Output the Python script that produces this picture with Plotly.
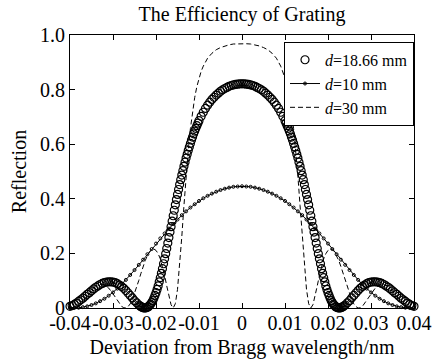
import numpy as np
import plotly.graph_objects as go

# ---------------- data ----------------
# d = 18.66 mm, sampled every 0.0005 nm from -0.04 to 0.04
x_d1866 = np.linspace(-0.04, 0.04, 161)
r_d1866 = [
    0.006,
    0.009, 0.013, 0.018, 0.024, 0.030, 0.036, 0.043, 0.050, 0.056, 0.063,
    0.070, 0.076, 0.081, 0.086, 0.090, 0.093, 0.095, 0.096, 0.096, 0.095,
    0.093, 0.089, 0.084, 0.079, 0.072, 0.064, 0.055, 0.046, 0.037, 0.027,
    0.019, 0.011, 0.005, 0.001, 0.000, 0.003, 0.010, 0.020, 0.036, 0.056,
    0.081, 0.111, 0.144, 0.180, 0.218, 0.258, 0.298, 0.338, 0.378, 0.416,
    0.452, 0.487, 0.519, 0.549, 0.577, 0.603, 0.626, 0.648, 0.668, 0.686,
    0.702, 0.717, 0.731, 0.743, 0.754, 0.764, 0.772, 0.780, 0.787, 0.794,
    0.799, 0.804, 0.808, 0.812, 0.815, 0.817, 0.819, 0.820, 0.821,
    0.821,
    0.821, 0.820, 0.819, 0.817, 0.815, 0.812, 0.808, 0.804, 0.799,
    0.794, 0.787, 0.780, 0.772, 0.764, 0.754, 0.743, 0.731, 0.717, 0.702,
    0.686, 0.668, 0.648, 0.626, 0.603, 0.577, 0.549, 0.519, 0.487, 0.452,
    0.416, 0.378, 0.338, 0.298, 0.258, 0.218, 0.180, 0.144, 0.111, 0.081,
    0.056, 0.036, 0.020, 0.010, 0.003, 0.000, 0.001, 0.005, 0.011, 0.019,
    0.027, 0.037, 0.046, 0.055, 0.064, 0.072, 0.079, 0.084, 0.089, 0.093,
    0.095, 0.096, 0.096, 0.095, 0.093, 0.090, 0.086, 0.081, 0.076, 0.070,
    0.063, 0.056, 0.050, 0.043, 0.036, 0.030, 0.024, 0.018, 0.013, 0.009,
    0.006,
]
# extra d = 18.66 mm readings on the steep flanks (denser markers there)
x_d1866_flank = [
    -0.02375, -0.02325, -0.02275, -0.02225, -0.02175, -0.02125, -0.02075,
    -0.02025, -0.01975, -0.01925, -0.01875, -0.01825, -0.01775, -0.01725,
    -0.01675, -0.01625, -0.01575, -0.01525, -0.01475, -0.01425, -0.01375,
    -0.01325, -0.01275, -0.01225, -0.01175, -0.01125, -0.01075, -0.01025,
    0.01025, 0.01075, 0.01125, 0.01175, 0.01225, 0.01275, 0.01325,
    0.01375, 0.01425, 0.01475, 0.01525, 0.01575, 0.01625, 0.01675,
    0.01725, 0.01775, 0.01825, 0.01875, 0.01925, 0.01975, 0.02025,
    0.02075, 0.02125, 0.02175, 0.02225, 0.02275, 0.02325, 0.02375,
]
r_d1866_flank = [
    0.008, 0.003, 0.000, 0.001, 0.005, 0.014, 0.027,
    0.046, 0.068, 0.096, 0.127, 0.162, 0.199, 0.238,
    0.278, 0.318, 0.358, 0.397, 0.434, 0.470, 0.503,
    0.534, 0.563, 0.590, 0.615, 0.638, 0.658, 0.677,
    0.677, 0.658, 0.638, 0.615, 0.590, 0.563, 0.534,
    0.503, 0.470, 0.434, 0.397, 0.358, 0.318, 0.278,
    0.238, 0.199, 0.162, 0.127, 0.096, 0.068, 0.046,
    0.027, 0.014, 0.005, 0.001, 0.000, 0.003, 0.008,
]

# d = 10 mm, sampled every 0.001 nm from -0.04 to 0.04
x_d10 = np.linspace(-0.04, 0.04, 81)
r_d10 = [
    0.000, 0.000, 0.001, 0.003, 0.006, 0.011, 0.017, 0.025, 0.034, 0.045,
    0.057, 0.071, 0.087, 0.103, 0.121, 0.139, 0.158, 0.177, 0.197, 0.216,
    0.236, 0.255, 0.273, 0.291, 0.308, 0.324, 0.340, 0.354, 0.368, 0.380,
    0.392, 0.402, 0.411, 0.419, 0.426, 0.432, 0.437, 0.441, 0.444, 0.445,
    0.446,
    0.445, 0.444, 0.441, 0.437, 0.432, 0.426, 0.419, 0.411, 0.402, 0.392,
    0.380, 0.368, 0.354, 0.340, 0.324, 0.308, 0.291, 0.273, 0.255, 0.236,
    0.216, 0.197, 0.177, 0.158, 0.139, 0.121, 0.103, 0.087, 0.071, 0.057,
    0.045, 0.034, 0.025, 0.017, 0.011, 0.006, 0.003, 0.001, 0.000, 0.000,
]

# d = 30 mm (finer sampling where the curve is steep)
x_d30 = [
    -0.040, -0.039, -0.038, -0.037, -0.036, -0.035, -0.034, -0.033, -0.032, -0.031,
    -0.030, -0.029, -0.028, -0.0275, -0.027, -0.0265, -0.026, -0.0255, -0.025, -0.0245,
    -0.024, -0.0235, -0.023, -0.0225, -0.022, -0.0215, -0.021, -0.0205, -0.020, -0.0195,
    -0.019, -0.0185, -0.018, -0.0175, -0.017, -0.0165, -0.016, -0.0155, -0.015, -0.0145,
    -0.014, -0.0135, -0.013, -0.0125, -0.012, -0.0115, -0.011, -0.0105, -0.010, -0.0095,
    -0.009, -0.008, -0.007, -0.006, -0.005, -0.004, -0.003, -0.002, -0.001,
    0.000,
    0.001, 0.002, 0.003, 0.004, 0.005, 0.006, 0.007, 0.008, 0.009,
    0.0095, 0.010, 0.0105, 0.011, 0.0115, 0.012, 0.0125, 0.013, 0.0135, 0.014,
    0.0145, 0.015, 0.0155, 0.016, 0.0165, 0.017, 0.0175, 0.018, 0.0185, 0.019,
    0.0195, 0.020, 0.0205, 0.021, 0.0215, 0.022, 0.0225, 0.023, 0.0235, 0.024,
    0.0245, 0.025, 0.0255, 0.026, 0.0265, 0.027, 0.0275, 0.028, 0.029, 0.030,
    0.031, 0.032, 0.033, 0.034, 0.035, 0.036, 0.037, 0.038, 0.039, 0.040,
]
r_d30 = [
    0.002, 0.000, 0.007, 0.022, 0.042, 0.063, 0.079, 0.087, 0.086, 0.073,
    0.052, 0.027, 0.006, 0.001, 0.000, 0.005, 0.015, 0.031, 0.052, 0.075,
    0.101, 0.127, 0.152, 0.174, 0.192, 0.206, 0.214, 0.216, 0.211, 0.199,
    0.180, 0.152, 0.119, 0.081, 0.043, 0.012, 0.000, 0.016, 0.068, 0.154,
    0.261, 0.375, 0.483, 0.578, 0.657, 0.720, 0.771, 0.811, 0.842, 0.867,
    0.886, 0.915, 0.933, 0.946, 0.954, 0.960, 0.964, 0.967, 0.968,
    0.969,
    0.968, 0.967, 0.964, 0.960, 0.954, 0.946, 0.933, 0.915, 0.886,
    0.867, 0.842, 0.811, 0.771, 0.720, 0.657, 0.578, 0.483, 0.375, 0.261,
    0.154, 0.068, 0.016, 0.000, 0.012, 0.043, 0.081, 0.119, 0.152, 0.180,
    0.199, 0.211, 0.216, 0.214, 0.206, 0.192, 0.174, 0.152, 0.127, 0.101,
    0.075, 0.052, 0.031, 0.015, 0.005, 0.000, 0.001, 0.006, 0.027, 0.052,
    0.073, 0.086, 0.087, 0.079, 0.063, 0.042, 0.022, 0.007, 0.000, 0.002,
]

assert len(r_d1866) == len(x_d1866)
assert len(r_d1866_flank) == len(x_d1866_flank)
assert len(r_d10) == len(x_d10)
assert len(r_d30) == len(x_d30)

x_ticks = [-0.04, -0.03, -0.02, -0.01, 0, 0.01, 0.02, 0.03, 0.04]
x_tick_labels = ["-0.04", "-0.03", "-0.02", "-0.01", "0", "0.01", "0.02", "0.03", "0.04"]
y_ticks = [0, 0.2, 0.4, 0.6, 0.8, 1.0]
y_tick_labels = ["0", "0.2", "0.4", "0.6", "0.8", "1.0"]

# ---------------- figure ----------------
FONT = "Liberation Serif, Times New Roman, serif"

fig = go.Figure()
fig.add_trace(go.Scatter(
    x=list(x_d1866) + x_d1866_flank, y=r_d1866 + r_d1866_flank,
    mode="markers", name="<i>d</i>=18.66 mm",
    marker=dict(symbol="circle-open", size=8, color="black", line=dict(width=1.2, color="black")),
    cliponaxis=False,
))
fig.add_trace(go.Scatter(
    x=x_d10, y=r_d10, mode="lines+markers", name="<i>d</i>=10 mm",
    line=dict(color="black", width=1),
    marker=dict(symbol="circle-open", size=3, color="black", line=dict(width=1, color="black")),
    cliponaxis=False,
))
fig.add_trace(go.Scatter(
    x=x_d30, y=r_d30, mode="lines", name="<i>d</i>=30 mm",
    line=dict(color="black", width=1, dash="5px,3px"),
    cliponaxis=False,
))

axis_common = dict(
    showline=True, linecolor="black", linewidth=1, mirror="ticks",
    ticks="inside", ticklen=5, tickcolor="black", tickwidth=1,
    showgrid=False, zeroline=False, automargin=False,
    tickfont=dict(family=FONT, size=20, color="black"),
)

fig.update_layout(
    width=436, height=362,
    margin=dict(l=70, r=22, t=35, b=54),
    paper_bgcolor="white", plot_bgcolor="white",
    font=dict(family=FONT, color="black"),
    title=dict(text="The Efficiency of Grating", x=0.5, xref="paper",
               y=1 - 14 / 362, yref="container", yanchor="middle",
               font=dict(family=FONT, size=20, color="black")),
    xaxis=dict(range=[-0.04, 0.04], tickvals=x_ticks, ticktext=x_tick_labels,
               tickangle=0, ticklabelstandoff=-3,
               title=dict(text="Deviation from Bragg wavelength/nm",
                          font=dict(family=FONT, size=20, color="black"), standoff=6),
               **axis_common),
    yaxis=dict(range=[0, 1], tickvals=y_ticks, ticktext=y_tick_labels,
               title=dict(text="Reflection",
                          font=dict(family=FONT, size=20, color="black"), standoff=8),
               **axis_common),
    legend=dict(x=1, xanchor="right", y=0.975, yanchor="top",
                bordercolor="black", borderwidth=1, bgcolor="white",
                font=dict(family=FONT, size=16, color="black"),
                tracegroupgap=0, itemwidth=30),
    showlegend=True,
)

# remove the browser's default 8px page margin so the figure sits at (0, 0)
fig.write_html("out.html", config={"displayModeBar": False},
               post_script="document.body.style.margin='0';")
